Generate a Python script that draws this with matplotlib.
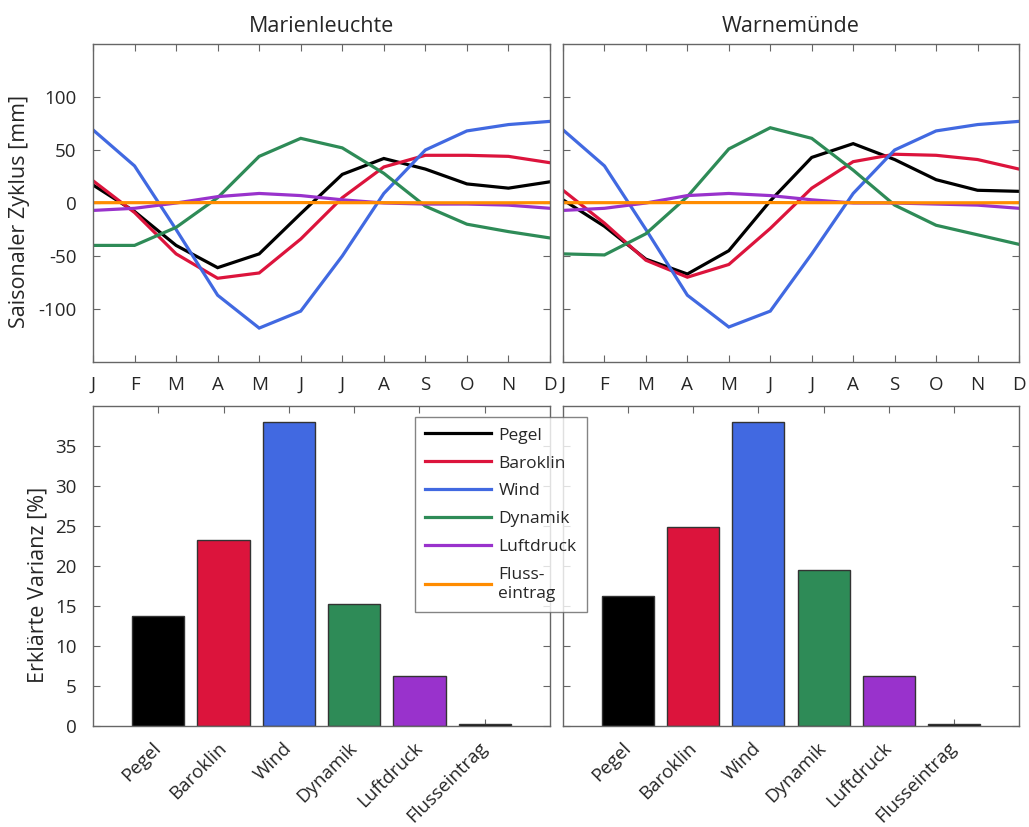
import matplotlib
matplotlib.use("Agg")
import matplotlib.pyplot as plt
from matplotlib.lines import Line2D
import numpy as np

plt.rcParams['font.family'] = ['Open Sans', 'DejaVu Sans']
plt.rcParams['axes.unicode_minus'] = False

months = ['J', 'F', 'M', 'A', 'M', 'J', 'J', 'A', 'S', 'O', 'N', 'D']
stations = ['Marienleuchte', 'Warnemünde']
components = ['Pegel', 'Baroklin', 'Wind', 'Dynamik', 'Luftdruck', 'Flusseintrag']
legend_labels = ['Pegel', 'Baroklin', 'Wind', 'Dynamik', 'Luftdruck', 'Fluss-\neintrag']
colors = ['#000000', '#DC143C', '#4169E1', '#2E8B57', '#9932CC', '#FF8C00']

# Seasonal cycle [mm], Marienleuchte
ml_pegel     = [17, -8, -40, -61, -48, -10, 27, 42, 32, 18, 14, 20]
ml_baroklin  = [21, -9, -48, -71, -66, -34, 5, 34, 45, 45, 44, 38]
ml_wind      = [69, 35, -25, -87, -118, -102, -50, 9, 50, 68, 74, 77]
ml_dynamik   = [-40, -40, -23, 5, 44, 61, 52, 28, -3, -20, -27, -33]
ml_luftdruck = [-7, -5, 0, 6, 9, 7, 3, 0, -1, -1, -2, -5]
ml_fluss     = [0.3, 0.3, 0.3, 0.4, 0.4, 0.4, 0.3, 0.3, 0.2, 0.2, 0.2, 0.3]

# Seasonal cycle [mm], Warnemünde
wm_pegel     = [3, -22, -53, -67, -45, 2, 43, 56, 41, 22, 12, 11]
wm_baroklin  = [12, -19, -54, -70, -58, -24, 14, 39, 46, 45, 41, 32]
wm_wind      = [69, 35, -25, -87, -117, -102, -48, 9, 50, 68, 74, 77]
wm_dynamik   = [-48, -49, -29, 6, 51, 71, 61, 31, -2, -21, -30, -39]
wm_luftdruck = [-7, -5, 0, 7, 9, 7, 3, 0, 0, -1, -2, -5]
wm_fluss     = [0.3, 0.3, 0.3, 0.4, 0.4, 0.4, 0.3, 0.3, 0.2, 0.2, 0.2, 0.3]

# Explained variance [%]
ml_varianz = [13.7, 23.2, 38.0, 15.2, 6.3, 0.2]
wm_varianz = [16.2, 24.9, 38.0, 19.5, 6.3, 0.2]

cycles = [
    [ml_pegel, ml_baroklin, ml_wind, ml_dynamik, ml_luftdruck, ml_fluss],
    [wm_pegel, wm_baroklin, wm_wind, wm_dynamik, wm_luftdruck, wm_fluss],
]
variances = [ml_varianz, wm_varianz]

W, H = 1029, 827
fig = plt.figure(figsize=(W / 100, H / 100), dpi=100)

def px_axes(x0, y0, x1, y1):
    return fig.add_axes([x0 / W, 1 - y1 / H, (x1 - x0) / W, (y1 - y0) / H])

spine_col = '#666666'
text_col = '#262626'
tick_fs = 13.5
label_fs = 15.5

def style(ax):
    for s in ax.spines.values():
        s.set_color(spine_col)
        s.set_linewidth(1.0)
    ax.tick_params(direction='in', length=5, width=0.8, color=spine_col,
                   top=True, right=True, labelsize=tick_fs, labelcolor=text_col)
    ax.tick_params(axis='y', pad=12)
    ax.tick_params(axis='x', pad=10)

top_axes = [px_axes(93, 44, 550, 362), px_axes(563, 44, 1019, 362)]
bot_axes = [px_axes(93, 406, 550, 726), px_axes(563, 406, 1019, 726)]

mx = np.arange(1, 13)
for i, ax in enumerate(top_axes):
    for series, c in zip(cycles[i], colors):
        ax.plot(mx, series, color=c, lw=2.3, solid_joinstyle='miter')
    ax.set_xlim(1, 12)
    ax.set_ylim(-150, 150)
    ax.set_xticks(mx)
    ax.set_xticklabels(months)
    ax.set_yticks([-100, -50, 0, 50, 100])
    style(ax)
    ax.set_title(stations[i], fontsize=15.5, color=text_col, pad=9)
    if i == 1:
        ax.set_yticklabels([])
    else:
        ax.set_ylabel('Saisonaler Zyklus [mm]', fontsize=label_fs, color=text_col)
        ax.yaxis.set_label_coords(-0.138, 0.475)

bx = np.arange(1, 7)
for i, ax in enumerate(bot_axes):
    ax.bar(bx, variances[i], width=0.8, color=colors[:5] + ['#000000'],
           edgecolor='#333333', linewidth=1.0, zorder=2)
    ax.set_xlim(0, 7)
    ax.set_ylim(0, 40)
    ax.set_xticks(bx)
    ax.set_yticks([0, 5, 10, 15, 20, 25, 30, 35])
    style(ax)
    ax.set_xticklabels(components, rotation=45, ha='right', va='center',
                       rotation_mode='anchor')
    ax.tick_params(axis='x', pad=14, labelsize=13.5)
    if i == 1:
        ax.set_yticklabels([])
    else:
        ax.set_ylabel('Erklärte Varianz [%]', fontsize=label_fs, color=text_col)
        ax.yaxis.set_label_coords(-0.098, 0.44)

handles = [Line2D([], [], color=c, lw=2.3) for c in colors]
leg = fig.legend(handles, legend_labels, loc='upper left',
                 bbox_to_anchor=(415 / W, 1 - 417 / H), borderaxespad=0,
                 fontsize=12.5, frameon=True, fancybox=False, handlelength=3.8,
                 handletextpad=0.4, labelspacing=0.68, borderpad=0.6)
leg.get_frame().set_edgecolor(spine_col)
leg.get_frame().set_linewidth(1.0)
for t in leg.get_texts():
    t.set_color(text_col)

fig.savefig('out.png', dpi=100)
